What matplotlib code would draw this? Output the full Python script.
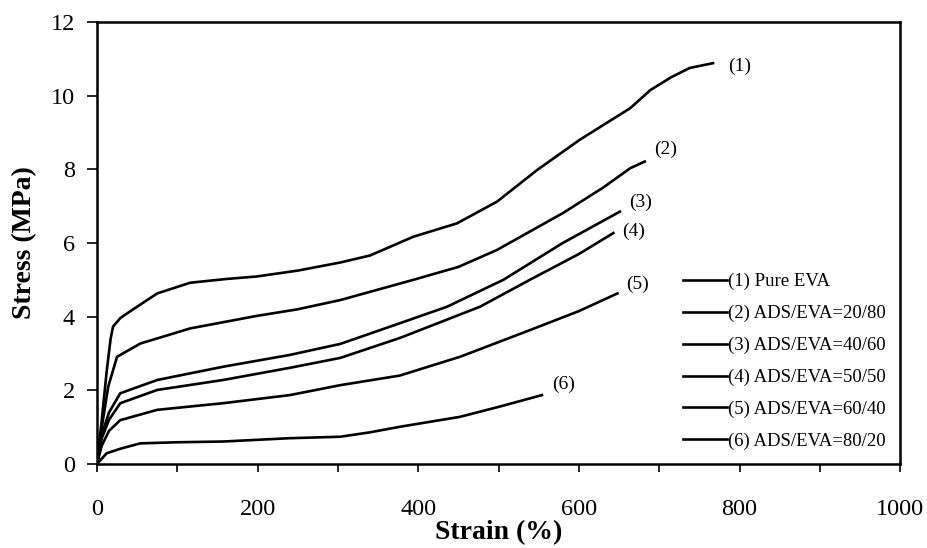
import matplotlib.pyplot as plt
from matplotlib.ticker import MultipleLocator

# curvas tensao x deformacao
x1 = [0, 6, 12, 17, 20, 29, 41, 75, 116, 160, 199, 250, 303, 340, 394, 448, 498, 548, 601, 664, 689, 715, 738, 767]
y1 = [0, 1.2, 2.5, 3.4, 3.73, 3.96, 4.14, 4.63, 4.92, 5.02, 5.09, 5.25, 5.47, 5.66, 6.17, 6.53, 7.12, 7.98, 8.8, 9.66, 10.15, 10.5, 10.75, 10.88]

x2 = [0, 6, 14, 25, 54, 116, 199, 250, 303, 394, 450, 498, 580, 630, 664, 682]
y2 = [0, 1.0, 2.1, 2.91, 3.27, 3.68, 4.02, 4.2, 4.45, 5.0, 5.35, 5.81, 6.81, 7.5, 8.03, 8.21]

x3 = [0, 6, 15, 29, 75, 157, 240, 303, 377, 436, 506, 580, 651]
y3 = [0, 0.8, 1.4, 1.92, 2.28, 2.64, 2.96, 3.26, 3.82, 4.27, 5.0, 6.0, 6.85]

x4 = [0, 6, 15, 29, 75, 157, 240, 303, 377, 477, 539, 600, 643]
y4 = [0, 0.7, 1.2, 1.65, 2.01, 2.28, 2.61, 2.88, 3.42, 4.27, 5.0, 5.7, 6.27]

x5 = [0, 6, 15, 29, 75, 157, 240, 303, 377, 452, 535, 600, 648]
y5 = [0, 0.5, 0.9, 1.19, 1.47, 1.65, 1.87, 2.14, 2.4, 2.91, 3.6, 4.15, 4.63]

x6 = [0, 12, 30, 54, 100, 157, 240, 303, 340, 377, 452, 500, 554]
y6 = [0, 0.29, 0.42, 0.56, 0.59, 0.61, 0.7, 0.74, 0.86, 1.01, 1.28, 1.55, 1.87]

curvas = [(x1, y1), (x2, y2), (x3, y3), (x4, y4), (x5, y5), (x6, y6)]
rotulos = ["(1) Pure EVA", "(2) ADS/EVA=20/80", "(3) ADS/EVA=40/60",
           "(4) ADS/EVA=50/50", "(5) ADS/EVA=60/40", "(6) ADS/EVA=80/20"]
marcas = ["(1)", "(2)", "(3)", "(4)", "(5)", "(6)"]

plt.rcParams["font.family"] = "Liberation Serif"

fig = plt.figure(figsize=(9.28, 5.48), dpi=100)
ax = fig.add_axes([0.1045, 0.1533, 0.8655, 0.8067])

for (x, y), rot in zip(curvas, rotulos):
    ax.plot(x, y, color="black", lw=1.9, label=rot)

# numeros no fim de cada curva
deslocamentos = [(11, -2), (7, 9), (7, 7), (6.5, 1.5), (6, 6.5), (7, 8)]
for (x, y), m, d in zip(curvas, marcas, deslocamentos):
    ax.annotate(m, (x[-1], y[-1]), xytext=d, textcoords="offset points",
                fontsize=14, ha="left", va="center")

ax.set_xlim(0, 1000)
ax.set_ylim(0, 12)
ax.xaxis.set_major_locator(MultipleLocator(200))
ax.xaxis.set_minor_locator(MultipleLocator(100))
ax.yaxis.set_major_locator(MultipleLocator(2))
ax.tick_params(axis="x", which="both", direction="out", length=6, width=1.2, pad=19, labelsize=17.5)
ax.tick_params(axis="y", direction="out", length=7, width=1.2, pad=9, labelsize=17.5)
for s in ax.spines.values():
    s.set_linewidth(1.8)

ax.set_xlabel("Strain (%)", fontsize=20, fontweight="bold", va="center")
ax.set_ylabel("Stress (MPa)", fontsize=20, fontweight="bold", va="center")
ax.xaxis.set_label_coords(0.5, -0.156)
ax.yaxis.set_label_coords(-0.0897, 0.5)

ax.legend(loc="upper left", bbox_to_anchor=(0.730, 0.432), frameon=False, fontsize=13.5,
          handlelength=2.35, handletextpad=0.05, labelspacing=0.78,
          borderaxespad=0, borderpad=0)

plt.savefig("out.png", dpi=100)
